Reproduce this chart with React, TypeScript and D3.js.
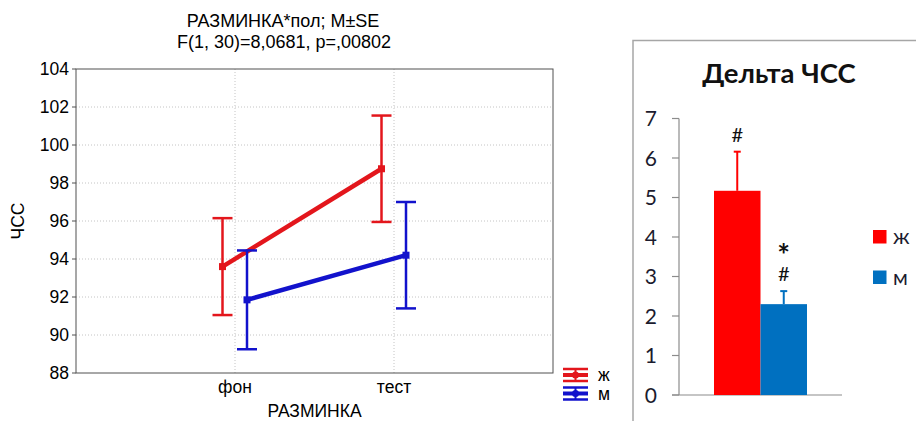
import React, { useEffect, useRef } from 'react';
import * as d3 from 'd3';

// left chart: interaction РАЗМИНКА * пол
const stages = ['фон', 'тест'];
const groups = ['ж', 'м'];
const meanZh = [93.6, 98.75];
const seZh = [2.55, 2.8];
const meanM = [91.85, 94.2];
const seM = [2.6, 2.8];
const yTicksLeft = [88, 90, 92, 94, 96, 98, 100, 102, 104];

// right chart: Дельта ЧСС
const deltaMean = [5.17, 2.3];
const deltaErr = [0.99, 0.33];
const deltaMarks = [['#'], ['*', '#']];
const yTicksRight = [0, 1, 2, 3, 4, 5, 6, 7];

const lineColors = ['#e3161c', '#1212cc'];
const barColors = ['#ff0000', '#0070c0'];

const App = () => {
  const svgRef = useRef(null);

  useEffect(() => {
    const svg = d3.select(svgRef.current);
    svg.selectAll('*').remove();
    drawLeft(svg);
    drawRight(svg);
  }, []);

  const drawLeft = (svg) => {
    const g = svg.append('g').style('font-family', '"Liberation Sans", Arial, sans-serif');
    const left = 76, right = 553, top = 69, bottom = 373;

    const x = d3.scalePoint().domain(stages).range([left, right]).padding(1);
    const y = d3.scaleLinear().domain([88, 104]).range([bottom, top]);

    // grid
    g.selectAll('.hgrid')
      .data(yTicksLeft.slice(1, -1))
      .enter()
      .append('line')
      .attr('x1', left).attr('x2', right)
      .attr('y1', (d) => y(d)).attr('y2', (d) => y(d))
      .attr('stroke', '#c4c4c4').attr('stroke-dasharray', '1,2');
    g.selectAll('.vgrid')
      .data(stages)
      .enter()
      .append('line')
      .attr('x1', (d) => x(d)).attr('x2', (d) => x(d))
      .attr('y1', top).attr('y2', bottom)
      .attr('stroke', '#c4c4c4').attr('stroke-dasharray', '1,2');

    // frame
    g.append('rect')
      .attr('x', left).attr('y', top)
      .attr('width', right - left).attr('height', bottom - top)
      .attr('fill', 'none').attr('stroke', '#505050');

    // y axis ticks + labels
    g.selectAll('.ytick')
      .data(yTicksLeft)
      .enter()
      .append('line')
      .attr('x1', left - 4).attr('x2', left)
      .attr('y1', (d) => y(d)).attr('y2', (d) => y(d))
      .attr('stroke', '#505050');
    g.selectAll('.ylab')
      .data(yTicksLeft)
      .enter()
      .append('text')
      .attr('x', left - 7)
      .attr('y', (d) => y(d))
      .attr('dy', '0.36em')
      .attr('text-anchor', 'end')
      .style('font-size', '17.5px')
      .text((d) => d);

    g.selectAll('.xlab')
      .data(stages)
      .enter()
      .append('text')
      .attr('x', (d) => x(d))
      .attr('y', 393)
      .attr('text-anchor', 'middle')
      .style('font-size', '17.5px')
      .text((d) => d);

    g.append('text')
      .attr('x', (left + right) / 2).attr('y', 417)
      .attr('text-anchor', 'middle')
      .style('font-size', '17.5px')
      .text('РАЗМИНКА');

    g.append('text')
      .attr('transform', `translate(24,${(top + bottom) / 2}) rotate(-90)`)
      .attr('text-anchor', 'middle')
      .style('font-size', '17.5px')
      .text('ЧСС');

    g.append('text')
      .attr('x', 283).attr('y', 27)
      .attr('text-anchor', 'middle')
      .style('font-size', '18px')
      .text('РАЗМИНКА*пол; M±SE');
    g.append('text')
      .attr('x', 284).attr('y', 48)
      .attr('text-anchor', 'middle')
      .style('font-size', '18px')
      .text('F(1, 30)=8,0681, p=,00802');

    // series
    const series = [
      { name: groups[0], mean: meanZh, se: seZh, off: -12.5, color: lineColors[0] },
      { name: groups[1], mean: meanM, se: seM, off: 12, color: lineColors[1] },
    ];
    const capW = 20;
    series.forEach((s) => {
      const pts = stages.map((st, i) => ({ x: x(st) + s.off, m: s.mean[i], se: s.se[i] }));
      pts.forEach((p) => {
        g.append('line')
          .attr('x1', p.x).attr('x2', p.x)
          .attr('y1', y(p.m - p.se)).attr('y2', y(p.m + p.se))
          .attr('stroke', s.color).attr('stroke-width', 2.5);
        [p.m - p.se, p.m + p.se].forEach((v) => {
          g.append('line')
            .attr('x1', p.x - capW / 2).attr('x2', p.x + capW / 2)
            .attr('y1', y(v)).attr('y2', y(v))
            .attr('stroke', s.color).attr('stroke-width', 2.5);
        });
      });
      const line = d3.line().x((d) => d.x).y((d) => y(d.m));
      g.append('path')
        .datum(pts)
        .attr('d', line)
        .attr('fill', 'none')
        .attr('stroke', s.color)
        .attr('stroke-width', 4.5);
      g.selectAll(null)
        .data(pts)
        .enter()
        .append('rect')
        .attr('x', (d) => d.x - 3.5).attr('y', (d) => y(d.m) - 3.5)
        .attr('width', 7).attr('height', 7)
        .attr('fill', s.color);
    });

    // legend
    series.forEach((s, i) => {
      const cy = 375 + i * 18.5;
      const lg = g.append('g');
      [-6, 6].forEach((d) => {
        lg.append('line')
          .attr('x1', 563).attr('x2', 588)
          .attr('y1', cy + d).attr('y2', cy + d)
          .attr('stroke', s.color).attr('stroke-width', 2.5);
      });
      lg.append('line')
        .attr('x1', 575.5).attr('x2', 575.5)
        .attr('y1', cy - 6).attr('y2', cy + 6)
        .attr('stroke', s.color).attr('stroke-width', 2);
      lg.append('line')
        .attr('x1', 563).attr('x2', 588)
        .attr('y1', cy).attr('y2', cy)
        .attr('stroke', s.color).attr('stroke-width', 4);
      lg.append('circle')
        .attr('cx', 575.5).attr('cy', cy).attr('r', 3.5)
        .attr('fill', s.color);
      lg.append('text')
        .attr('x', 598).attr('y', cy + 6)
        .style('font-size', '17.5px')
        .text(s.name);
    });
  };

  const drawRight = (svg) => {
    const g = svg.append('g').style('font-family', 'Lato, "Open Sans", sans-serif');
    const axisX = 679, axisTop = 118.5, axisBottom = 395;

    g.append('path')
      .attr('d', `M633,421 V40.5 H930`)
      .attr('fill', 'none')
      .attr('stroke', '#a6a6a6')
      .attr('stroke-width', 1.5);

    g.append('text')
      .attr('x', 779).attr('y', 83)
      .attr('text-anchor', 'middle')
      .style('font-size', '27.5px')
      .style('font-weight', 'bold')
      .attr('fill', '#111')
      .text('Дельта ЧСС');

    const y = d3.scaleLinear().domain([0, 7]).range([axisBottom, axisTop]);
    const x = d3.scaleBand().domain(groups).range([714, 807]);

    g.append('line')
      .attr('x1', axisX).attr('x2', axisX)
      .attr('y1', y(7)).attr('y2', y(0))
      .attr('stroke', '#8c8c8c').attr('stroke-width', 1.2);
    g.append('line')
      .attr('x1', 672).attr('x2', 842)
      .attr('y1', y(0)).attr('y2', y(0))
      .attr('stroke', '#8c8c8c').attr('stroke-width', 1.2);

    g.selectAll('.rtick')
      .data(yTicksRight)
      .enter()
      .append('line')
      .attr('x1', 672).attr('x2', axisX)
      .attr('y1', (d) => y(d)).attr('y2', (d) => y(d))
      .attr('stroke', '#8c8c8c').attr('stroke-width', 1.2);
    g.selectAll('.rlab')
      .data(yTicksRight)
      .enter()
      .append('text')
      .attr('x', 657)
      .attr('y', (d) => y(d))
      .attr('dy', '0.36em')
      .attr('text-anchor', 'end')
      .style('font-size', '21px')
      .attr('fill', '#1b1b2e')
      .text((d) => d);

    groups.forEach((grp, i) => {
      const bx = x(grp);
      const cx = bx + x.bandwidth() / 2;
      const top = deltaMean[i] + deltaErr[i];
      g.append('line')
        .attr('x1', cx).attr('x2', cx)
        .attr('y1', y(deltaMean[i])).attr('y2', y(top))
        .attr('stroke', barColors[i]).attr('stroke-width', 2);
      g.append('line')
        .attr('x1', cx - 3.5).attr('x2', cx + 3.5)
        .attr('y1', y(top)).attr('y2', y(top))
        .attr('stroke', barColors[i]).attr('stroke-width', 2);
      g.append('rect')
        .attr('x', bx).attr('y', y(deltaMean[i]))
        .attr('width', x.bandwidth()).attr('height', y(0) - y(deltaMean[i]))
        .attr('fill', barColors[i]);

      // significance marks stacked above the error bar
      const marks = deltaMarks[i];
      marks.forEach((mk, j) => {
        const fromTop = marks.length - 1 - j;
        const base = y(top) - 10 - fromTop * 25;
        g.append('text')
          .attr('x', cx).attr('y', mk === '*' ? base + 10 : base)
          .attr('text-anchor', 'middle')
          .style('font-size', mk === '*' ? '30px' : '20px')
          .style('font-weight', mk === '*' ? 'bold' : 'normal')
          .attr('fill', '#111')
          .text(mk);
      });

      // legend
      g.append('rect')
        .attr('x', 873).attr('y', 230 + i * 40.5)
        .attr('width', 13.5).attr('height', 13.5)
        .attr('fill', barColors[i]);
      g.append('text')
        .attr('x', 893).attr('y', 244 + i * 40.5)
        .style('font-size', '21px')
        .attr('fill', '#1b1b2e')
        .text(grp);
    });
  };

  return (
    <svg
      ref={svgRef}
      width={916}
      height={421}
      style={{ position: 'absolute', left: 0, top: 0, background: '#fff' }}
    />
  );
};

export default App;
